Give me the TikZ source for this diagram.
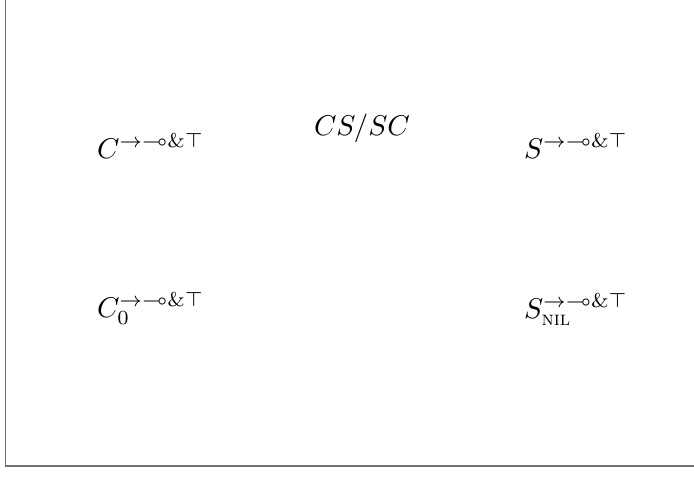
\documentclass[tikz,border=0pt]{standalone}
\usepackage{amsmath,amssymb}
\begin{document}
\begin{tikzpicture}[x=0.3501pt,y=-0.3501pt,
  lbl/.style={anchor=base west,inner sep=0pt,outer sep=0pt},
  frameline/.style={draw=black!55,line width=0.5pt}]
\useasboundingbox (0,0) rectangle (694,499);
\coordinate (tl) at (5.5,0);
\coordinate (bl) at (5.5,466);
\coordinate (br) at (694,466);
\draw[frameline] (tl) -- (bl) -- (br);
\node[lbl] (c) at (97,158) {$C^{\to\multimap\&\top}$};
\node[lbl] (cs) at (314,135) {$CS/SC$};
\node[lbl] (s) at (524,158) {$S^{\to\multimap\&\top}$};
\node[lbl] (c0) at (97,317) {$C_0^{\to\multimap\&\top}$};
\node[lbl] (snil) at (524,318) {$S_{\textsc{nil}}^{\to\multimap\&\top}$};
\end{tikzpicture}
\end{document}
